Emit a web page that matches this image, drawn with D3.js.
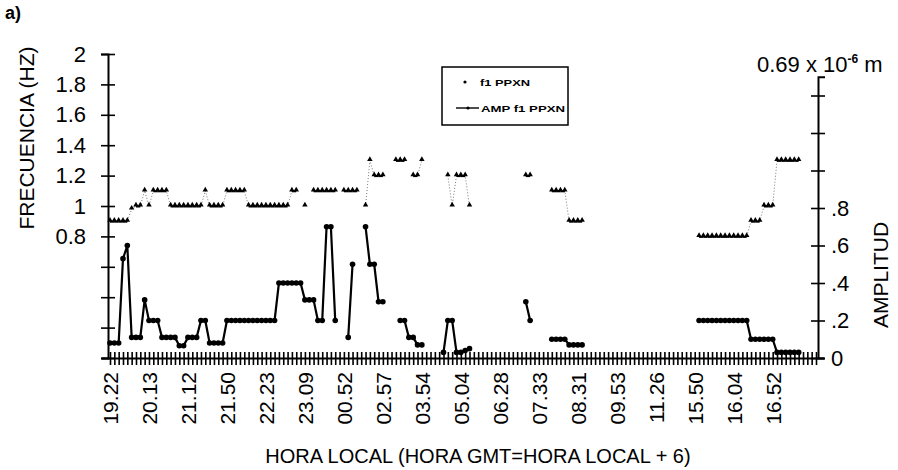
<!DOCTYPE html>
<html>
<head>
<meta charset="utf-8">
<script src="https://cdn.jsdelivr.net/npm/d3@7"></script>
<style>
  body { margin: 0; background: #fff; }
  svg { display: block; }
  text { font-family: "Liberation Sans", Arial, sans-serif; fill: #000; }
</style>
</head>
<body>
<svg id="chart" width="898" height="470"></svg>
<script>
// Local time labels, one every 9th sample
const timeLabels = ["19.22", "20.13", "21.12", "21.50", "22.23", "23.09", "00.52", "02.57", "03.54",
                    "05.04", "06.28", "07.33", "08.31", "09.53", "11.26", "15.50", "16.04", "16.52"];
const labelEvery = 9;

// Fundamental frequency f1 PPXN (Hz), one value per sample, null = no reading
const frequency = [
  0.9, 0.9, 0.9, 0.9, 0.9, 0.98, 1.0, 1.0, 1.1, 1.0,
  1.1, 1.1, 1.1, 1.1, 1.0, 1.0, 1.0, 1.0, 1.0, 1.0,
  1.0, 1.0, 1.1, 1.0, 1.0, 1.0, 1.0, 1.1, 1.1, 1.1,
  1.1, 1.1, 1.0, 1.0, 1.0, 1.0, 1.0, 1.0, 1.0, 1.0,
  1.0, 1.0, 1.1, 1.1, null, 1.0, null, 1.1, 1.1, 1.1,
  1.1, 1.1, 1.1, null, 1.1, 1.1, 1.1, 1.1, null, 1.0,
  1.3, 1.2, 1.2, 1.2, null, null, 1.3, 1.3, 1.3, null,
  1.2, 1.2, 1.3, null, null, null, null, null, 1.2, 1.0,
  1.2, 1.2, 1.2, 1.0, null, null, null, null, null, null,
  null, null, null, null, null, null, 1.2, 1.2, null, null,
  null, null, 1.1, 1.1, 1.1, 1.1, 0.9, 0.9, 0.9, 0.9,
  null, null, null, null, null, null, null, null, null, null,
  null, null, null, null, null, null, null, null, null, null,
  null, null, null, null, null, null, 0.8, 0.8, 0.8, 0.8,
  0.8, 0.8, 0.8, 0.8, 0.8, 0.8, 0.8, 0.8, 0.9, 0.9,
  0.9, 1.0, 1.0, 1.0, 1.3, 1.3, 1.3, 1.3, 1.3, 1.3,
  null, null, null, null
];

// Amplitude of f1 PPXN (units of 0.69 x 10^-6 m), null = no reading
const amplitude = [
  0.08, 0.08, 0.08, 0.53, 0.6, 0.11, 0.11, 0.11, 0.31, 0.2,
  0.2, 0.2, 0.11, 0.11, 0.11, 0.11, 0.065, 0.065, 0.11, 0.11,
  0.11, 0.2, 0.2, 0.08, 0.08, 0.08, 0.08, 0.2, 0.2, 0.2,
  0.2, 0.2, 0.2, 0.2, 0.2, 0.2, 0.2, 0.2, 0.2, 0.4,
  0.4, 0.4, 0.4, 0.4, 0.4, 0.31, 0.31, 0.31, 0.2, 0.2,
  0.7, 0.7, 0.2, null, null, 0.11, 0.5, null, null, 0.7,
  0.5, 0.5, 0.3, 0.3, null, null, null, 0.2, 0.2, 0.11,
  0.11, 0.07, 0.07, null, null, null, null, 0.03, 0.2, 0.2,
  0.03, 0.03, 0.04, 0.05, null, null, null, null, null, null,
  null, null, null, null, null, null, 0.3, 0.2, null, null,
  null, null, 0.1, 0.1, 0.1, 0.1, 0.07, 0.07, 0.07, 0.07,
  null, null, null, null, null, null, null, null, null, null,
  null, null, null, null, null, null, null, null, null, null,
  null, null, null, null, null, null, 0.2, 0.2, 0.2, 0.2,
  0.2, 0.2, 0.2, 0.2, 0.2, 0.2, 0.2, 0.2, 0.1, 0.1,
  0.1, 0.1, 0.1, 0.1, 0.03, 0.03, 0.03, 0.03, 0.03, 0.03,
  null, null, null, null
];

// Axis ticks
const freqTicks = [0, 0.2, 0.4, 0.6, 0.8, 1.0, 1.2, 1.4, 1.6, 1.8, 2.0];
const freqTickText = ["", "", "", "", "0.8", "1", "1.2", "1.4", "1.6", "1.8", "2"];
const ampTicks = [0, 0.2, 0.4, 0.6, 0.8, 1.0, 1.2, 1.4];
const ampTickText = ["0", ".2", ".4", ".6", ".8", "", "", ""];

const svg = d3.select("#chart");
const samples = d3.range(frequency.length);

const plotLeft = 108, plotRight = 818, plotTop = 54, plotBottom = 358;

const x = d3.scalePoint().domain(samples).range([110, 816]);
const yF = d3.scaleLinear().domain([0, 2]).range([plotBottom, plotTop]);
const yA = d3.scaleLinear().domain([0, 1.5]).range([plotBottom, plotBottom - 1.5 * 187.5]);

function styleAxis(g) {
  g.selectAll(".domain").attr("stroke", "#000").attr("stroke-width", 2);
  g.selectAll(".tick line").attr("stroke", "#000").attr("stroke-width", 1.6);
}

// Left axis (frequency), ticks crossing the line
svg.append("g").attr("transform", `translate(${plotLeft},0)`)
  .call(d3.axisLeft(yF).tickValues(freqTicks).tickSize(7).tickPadding(15)
    .tickFormat((d, i) => freqTickText[i]))
  .call(styleAxis)
  .call(g => g.selectAll("text").attr("font-size", 22));
svg.append("g").attr("transform", `translate(${plotLeft},0)`)
  .call(d3.axisRight(yF).tickValues(freqTicks).tickSize(7).tickFormat(""))
  .call(styleAxis)
  .call(g => g.select(".domain").remove());

// Right axis (amplitude)
svg.append("g").attr("transform", `translate(${plotRight},0)`)
  .call(d3.axisRight(yA).tickValues(ampTicks).tickSize(7).tickPadding(6)
    .tickFormat((d, i) => ampTickText[i]))
  .call(styleAxis)
  .call(g => g.selectAll("text").attr("font-size", 22));
svg.append("g").attr("transform", `translate(${plotRight},0)`)
  .call(d3.axisLeft(yA).tickValues(ampTicks).tickSize(7).tickFormat(""))
  .call(styleAxis)
  .call(g => g.select(".domain").remove());

// Bottom axis: a tick for every sample, crossing the line
svg.append("g").attr("transform", `translate(0,${plotBottom})`)
  .call(d3.axisBottom(x).tickValues(samples).tickSize(7).tickSizeOuter(0).tickFormat(""))
  .call(styleAxis)
  .call(g => g.select(".domain").attr("d", `M${plotLeft - 6},0.5H${plotRight + 6}`));
svg.append("g").attr("transform", `translate(0,${plotBottom})`)
  .call(d3.axisTop(x).tickValues(samples).tickSize(6).tickFormat(""))
  .call(styleAxis)
  .call(g => g.select(".domain").remove());

// Time labels, rotated
const labelled = samples.filter(i => i % labelEvery === 0).slice(0, timeLabels.length);
svg.append("g").attr("transform", `translate(0,${plotBottom})`)
  .call(d3.axisBottom(x).tickValues(labelled).tickSize(0)
    .tickFormat(d => timeLabels[d / labelEvery]))
  .call(g => g.select(".domain").remove())
  .call(g => g.selectAll("text")
    .attr("font-size", 21)
    .attr("text-anchor", "end")
    .attr("x", 0).attr("y", 0).attr("dy", "0.36em")
    .attr("transform", "translate(0,14) rotate(-90)"));

// Frequency: faint dotted link, solid runs where readings repeat, triangle markers
const freqPts = samples.filter(i => frequency[i] != null);
const freqLine = d3.line().x(i => x(i)).y(i => yF(frequency[i]));
svg.append("path")
  .datum(samples)
  .attr("fill", "none").attr("stroke", "#555").attr("stroke-width", 0.8)
  .attr("stroke-dasharray", "1,2")
  .attr("d", freqLine.defined(i => frequency[i] != null));
const freqRuns = freqPts.filter(i => frequency[i + 1] != null && frequency[i + 1] === frequency[i])
  .map(i => [i, i + 1]);
svg.append("g").selectAll("path").data(freqRuns).join("path")
  .attr("fill", "none").attr("stroke", "#000").attr("stroke-width", 2)
  .attr("d", d3.line().x(i => x(i)).y(i => yF(frequency[i]) + 0.5));
svg.append("g").selectAll("path").data(freqPts).join("path")
  .attr("d", d3.symbol(d3.symbolTriangle, 13))
  .attr("transform", i => `translate(${x(i)},${yF(frequency[i]) - 1})`)
  .attr("fill", "#000");

// Amplitude: thick line with round markers
const ampPts = samples.filter(i => amplitude[i] != null);
svg.append("path")
  .datum(samples)
  .attr("fill", "none").attr("stroke", "#000").attr("stroke-width", 2.2)
  .attr("stroke-linejoin", "round")
  .attr("d", d3.line().defined(i => amplitude[i] != null).x(i => x(i)).y(i => yA(amplitude[i])));
svg.append("g").selectAll("circle").data(ampPts).join("circle")
  .attr("cx", i => x(i)).attr("cy", i => yA(amplitude[i])).attr("r", 2.8)
  .attr("fill", "#000");

// Panel tag
svg.append("text").attr("x", 5).attr("y", 19)
  .attr("font-family", "'Liberation Serif', 'Times New Roman', serif")
  .attr("font-weight", "bold").attr("font-size", 18).text("a)");

// Axis titles
svg.append("text")
  .attr("transform", `translate(34,138) rotate(-90)`)
  .attr("text-anchor", "middle").attr("font-size", 21)
  .text("FRECUENCIA (HZ)");
svg.append("text")
  .attr("transform", `translate(888,275) rotate(-90)`)
  .attr("text-anchor", "middle").attr("font-size", 21)
  .text("AMPLITUD");
svg.append("text")
  .attr("x", 478).attr("y", 463)
  .attr("text-anchor", "middle").attr("font-size", 20)
  .text("HORA LOCAL (HORA GMT=HORA LOCAL + 6)");

// Amplitude scale note
const note = svg.append("text").attr("x", 757).attr("y", 72).attr("font-size", 22);
note.append("tspan").text("0.69 x 10");
note.append("tspan").attr("dy", -9).attr("font-size", 12).attr("font-weight", "bold").text("-6");
note.append("tspan").attr("dy", 9).text(" m");

// Legend
const lg = svg.append("g");
lg.append("rect").attr("x", 442).attr("y", 67).attr("width", 126).attr("height", 58)
  .attr("fill", "#fff").attr("stroke", "#000").attr("stroke-width", 1.5);
lg.append("circle").attr("cx", 465).attr("cy", 82).attr("r", 1.6).attr("fill", "#000");
lg.append("text").attr("x", 480).attr("y", 85.5).attr("font-size", 9).attr("font-weight", "bold")
  .attr("textLength", 50).attr("lengthAdjust", "spacingAndGlyphs").text("f1 PPXN");
lg.append("line").attr("x1", 456).attr("x2", 479).attr("y1", 108).attr("y2", 108)
  .attr("stroke", "#000").attr("stroke-width", 1.4);
lg.append("circle").attr("cx", 468).attr("cy", 108).attr("r", 1.6).attr("fill", "#000");
lg.append("text").attr("x", 481).attr("y", 111.5).attr("font-size", 9).attr("font-weight", "bold")
  .attr("textLength", 84).attr("lengthAdjust", "spacingAndGlyphs").text("AMP f1 PPXN");
</script>
</body>
</html>
